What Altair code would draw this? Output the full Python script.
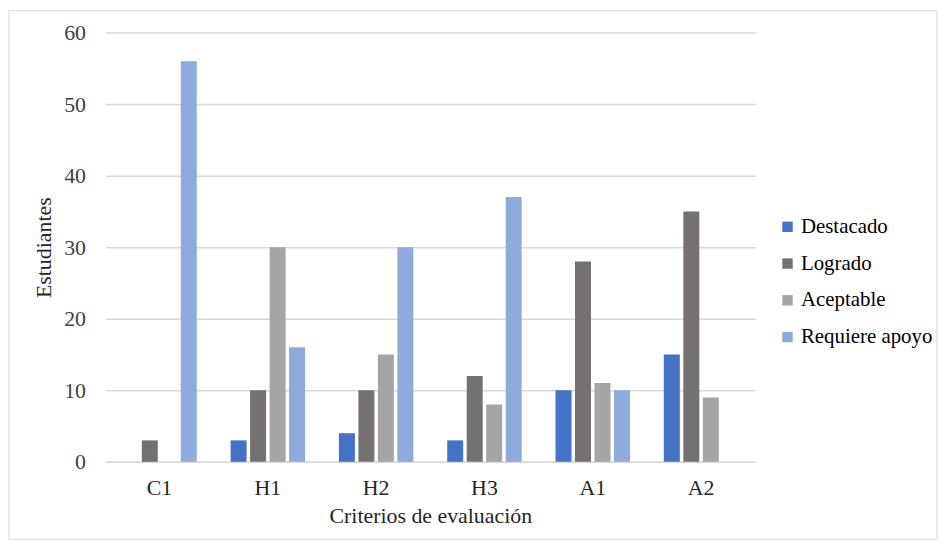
import altair as alt
import pandas as pd

categories = ["C1", "H1", "H2", "H3", "A1", "A2"]
series = ["Destacado", "Logrado", "Aceptable", "Requiere apoyo"]
destacado = [0, 3, 4, 3, 10, 15]
logrado = [3, 10, 10, 12, 28, 35]
aceptable = [0, 30, 15, 8, 11, 9]
requiere = [56, 16, 30, 37, 10, 0]
colors = ["#4472C4", "#767171", "#A5A5A5", "#8FAADC"]

rows = []
for name, vals in zip(series, [destacado, logrado, aceptable, requiere]):
    for c, v in zip(categories, vals):
        rows.append({"Criterio": c, "Nivel": name, "Estudiantes": v})
df = pd.DataFrame(rows)

W, H = 654, 432
FONT = "Liberation Serif"

bars = alt.Chart(df).mark_bar().encode(
    x=alt.X("Criterio:N", sort=categories, title="Criterios de evaluación",
            scale=alt.Scale(paddingInner=0.28, paddingOuter=0.14),
            axis=alt.Axis(labelAngle=0, labelPadding=16, titlePadding=7,
                          ticks=False, grid=False, domainColor="#d9d9d9", domainWidth=1.5,
                          labelFont=FONT, titleFont=FONT, titleFontWeight="normal",
                          labelFontSize=22, titleFontSize=22,
                          labelColor="#262626", titleColor="#262626")),
    xOffset=alt.XOffset("Nivel:N", sort=series,
                        scale=alt.Scale(paddingInner=0.18, paddingOuter=0.09)),
    y=alt.Y("Estudiantes:Q", title="Estudiantes",
            scale=alt.Scale(domain=[0, 60]),
            axis=alt.Axis(values=[0, 10, 20, 30, 40, 50, 60], domain=False, ticks=False,
                          labelPadding=20, titlePadding=8, gridColor="#d9d9d9",
                          gridWidth=1.5, labelFont=FONT, titleFont=FONT,
                          titleFontWeight="normal", labelFontSize=22, titleFontSize=22,
                          labelColor="#404040", titleColor="#262626")),
    color=alt.Color("Nivel:N", sort=series,
                    scale=alt.Scale(domain=series, range=colors),
                    legend=alt.Legend(title=None, orient="none", legendX=676, legendY=185,
                                      symbolType="square", symbolSize=110,
                                      symbolStrokeWidth=0, labelFont=FONT,
                                      labelFontSize=21, labelColor="#000000",
                                      rowPadding=15, labelOffset=3)),
)

one = pd.DataFrame({"a": [0]})
def frame_rule(**enc):
    return alt.Chart(one).mark_rule(color="#d9d9d9", strokeWidth=1).encode(**enc)

top = frame_rule(x=alt.value(-97), x2=alt.value(837), y=alt.value(-22))
bottom = frame_rule(x=alt.value(-97), x2=alt.value(837), y=alt.value(510))
left = frame_rule(x=alt.value(-97), y=alt.value(-22), y2=alt.value(510))
right = frame_rule(x=alt.value(837), y=alt.value(-22), y2=alt.value(510))

chart = alt.layer(top, bottom, left, right, bars).properties(
    width=W, height=H,
    autosize=alt.AutoSizeParams(type="none"),
    padding={"left": 98, "top": 23, "right": 190, "bottom": 82},
).configure(
    font=FONT, view=alt.ViewConfig(strokeOpacity=0, strokeWidth=0)
).configure_legend(labelFont=FONT)

chart.save("out.html", embed_options={"renderer": "svg", "actions": False})
